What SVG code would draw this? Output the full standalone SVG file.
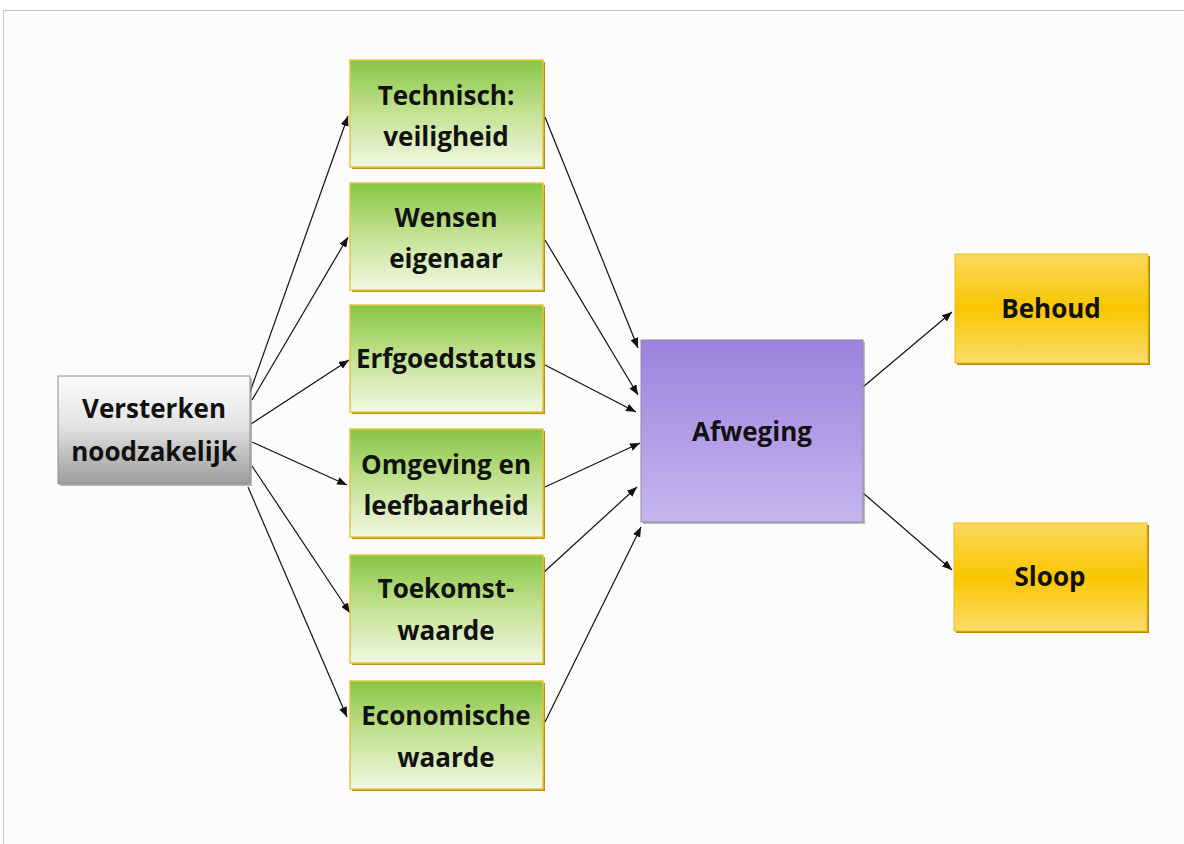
<svg xmlns="http://www.w3.org/2000/svg" width="1184" height="844" viewBox="0 0 1184 844">
<defs>
<linearGradient id="gGray" x1="0" y1="0" x2="0" y2="1">
<stop offset="0" stop-color="#fbfbfb"/><stop offset="0.45" stop-color="#e4e4e4"/><stop offset="1" stop-color="#9c9c9c"/>
</linearGradient>
<linearGradient id="gGreen" x1="0" y1="0" x2="0" y2="1">
<stop offset="0" stop-color="#86c544"/><stop offset="0.45" stop-color="#bfe08c"/><stop offset="1" stop-color="#f1f8e2"/>
</linearGradient>
<linearGradient id="gPurple" x1="0" y1="0" x2="0" y2="1">
<stop offset="0" stop-color="#9d81de"/><stop offset="1" stop-color="#c6b5ee"/>
</linearGradient>
<linearGradient id="gYellow" x1="0" y1="0" x2="0" y2="1">
<stop offset="0" stop-color="#fcd95e"/><stop offset="0.5" stop-color="#f9c600"/><stop offset="1" stop-color="#fcdc6c"/>
</linearGradient>
<marker id="arr" markerUnits="userSpaceOnUse" markerWidth="11" markerHeight="8" refX="10" refY="4" orient="auto">
<path d="M0,0 L10,4 L0,8 z" fill="#111"/>
</marker>
</defs>
<style>
.t{font-family:"Open Sans","Liberation Sans",sans-serif;font-weight:bold;font-size:26px;fill:#111;text-anchor:middle}
.c{stroke:#111;stroke-width:1.2;fill:none;marker-end:url(#arr)}
.sh{fill:#8c8c8c;opacity:0.6}
.shg{fill:#b8901a}
.shy{fill:#b88a00}
.gray{fill:url(#gGray);stroke:#8e8e8e;stroke-width:1}
.green{fill:url(#gGreen);stroke:#e3c640;stroke-width:1.5}
.purple{fill:url(#gPurple);stroke:#8f88a8;stroke-width:1}
.yellow{fill:url(#gYellow);stroke:#e8bc20;stroke-width:1}
</style>
<rect x="0" y="0" width="1184" height="844" fill="#ffffff"/>
<rect x="3.5" y="10.5" width="1200" height="850" fill="#fcfcfc" stroke="#c4c4c4" stroke-width="1"/>

<g id="connectors">
<line class="c" x1="250" y1="392" x2="348" y2="116"/>
<line class="c" x1="252" y1="400" x2="348" y2="237"/>
<line class="c" x1="251" y1="424" x2="349" y2="360"/>
<line class="c" x1="252" y1="442" x2="347" y2="485"/>
<line class="c" x1="252" y1="466" x2="350" y2="613"/>
<line class="c" x1="248" y1="487" x2="347" y2="717"/>
<line class="c" x1="545" y1="117" x2="638" y2="348"/>
<line class="c" x1="545" y1="240" x2="638" y2="395"/>
<line class="c" x1="545" y1="365" x2="636" y2="412"/>
<line class="c" x1="545" y1="487" x2="640" y2="443"/>
<line class="c" x1="543" y1="573" x2="637" y2="487"/>
<line class="c" x1="545" y1="722" x2="641" y2="527"/>
<line class="c" x1="863" y1="387" x2="952" y2="312"/>
<line class="c" x1="863" y1="493" x2="952" y2="570"/>
</g>

<g id="versterken">
<rect class="sh" x="60" y="378" width="192" height="108"/>
<rect class="gray" x="58" y="376" width="192" height="108"/>
<text class="t" x="154" y="418">Versterken</text>
<text class="t" x="154" y="461">noodzakelijk</text>
</g>

<g id="technisch">
<rect class="shg" x="352" y="62" width="193" height="107"/>
<rect class="green" x="350" y="60" width="193" height="107"/>
<text class="t" x="446" y="105">Technisch:</text>
<text class="t" x="446" y="146">veiligheid</text>
</g>

<g id="wensen">
<rect class="shg" x="352" y="185" width="193" height="107"/>
<rect class="green" x="350" y="183" width="193" height="107"/>
<text class="t" x="446" y="227">Wensen</text>
<text class="t" x="446" y="268">eigenaar</text>
</g>

<g id="erfgoed">
<rect class="shg" x="352" y="307" width="193" height="107"/>
<rect class="green" x="350" y="305" width="193" height="107"/>
<text class="t" x="446" y="368">Erfgoedstatus</text>
</g>

<g id="omgeving">
<rect class="shg" x="352" y="431" width="193" height="108"/>
<rect class="green" x="350" y="429" width="193" height="108"/>
<text class="t" x="446" y="474">Omgeving en</text>
<text class="t" x="446" y="515">leefbaarheid</text>
</g>

<g id="toekomst">
<rect class="shg" x="352" y="557" width="193" height="108"/>
<rect class="green" x="350" y="555" width="193" height="108"/>
<text class="t" x="446" y="598">Toekomst-</text>
<text class="t" x="446" y="640">waarde</text>
</g>

<g id="economisch">
<rect class="shg" x="352" y="683" width="193" height="108"/>
<rect class="green" x="350" y="681" width="193" height="108"/>
<text class="t" x="446" y="725">Economische</text>
<text class="t" x="446" y="767">waarde</text>
</g>

<g id="afweging">
<rect class="sh" x="643" y="342" width="222" height="182"/>
<rect class="purple" x="641" y="340" width="222" height="182"/>
<text class="t" x="752" y="441">Afweging</text>
</g>

<g id="behoud">
<rect class="shy" x="957" y="256" width="193" height="109"/>
<rect class="yellow" x="955" y="254" width="193" height="109"/>
<text class="t" x="1051" y="318">Behoud</text>
</g>

<g id="sloop">
<rect class="shy" x="956" y="525" width="193" height="108"/>
<rect class="yellow" x="954" y="523" width="193" height="108"/>
<text class="t" x="1050" y="586">Sloop</text>
</g>
</svg>
